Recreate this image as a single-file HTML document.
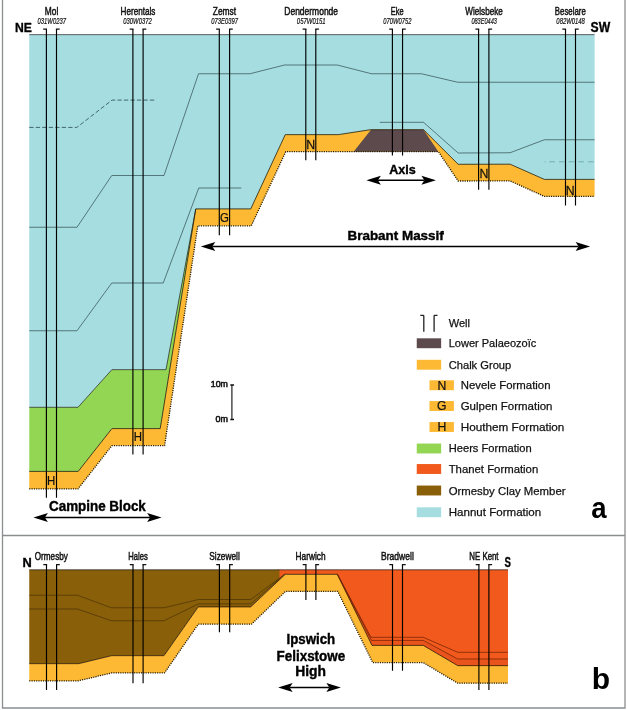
<!DOCTYPE html><html><head><meta charset="utf-8"><title>fig</title>
<style>html,body{margin:0;padding:0;background:#fff}svg{display:block;will-change:transform}text{font-family:"Liberation Sans",sans-serif}</style></head><body>
<svg width="627" height="710" viewBox="0 0 627 710">
<rect width="627" height="710" fill="#fff"/>
<path d="M2.5,0V708H625V0M2.5,535.5H625" fill="none" stroke="#8b8e91" stroke-width="1.3"/>
<g transform="translate(0,0.4)">
<polygon points="29.25,34.25 594.6,34.25 594.6,179 544.4,179 510.1,163.8 458.2,163.9 423.5,129.3 370.5,129.3 338.25,134.25 285.25,134.25 250.75,208.5 195.75,208.5 160.2,428.2 166,369.25 111.9,369.25 78,406.9 29.25,406.9" fill="#a6dde0" />
<polygon points="29.25,406.9 78,406.9 111.9,369.25 166,369.25 195.75,208.5 160.2,428.2 111.9,428.2 78.2,471 29.25,471" fill="#92d654" />
<polygon points="29.25,471 78.2,471 111.9,428.2 160.2,428.2 195.75,208.5 250.75,208.5 285.25,134.25 338.25,134.25 370.5,129.3 423.5,129.3 458.2,163.9 510.1,163.8 544.4,179 594.6,179 594.6,196 544.4,196 510.1,180.5 458.2,180.6 438.4,151.3 285.75,151.3 251.25,225.4 197.8,225.4 164.6,445.2 111.9,445.2 78,488.5 29.25,488.5" fill="#fdb933" />
<polygon points="371,129.3 423.5,129.3 438.4,151.3 353.6,151.3" fill="#5d4a4d" />
<polyline points="29.25,34.25 594.6,34.25" fill="none" stroke="#1c1c1c" stroke-width="0.7" />
<polyline points="29.25,406.9 78,406.9 111.9,369.25 166,369.25 195.75,208.5" fill="none" stroke="#1c1c1c" stroke-width="0.7" />
<polyline points="29.25,471 78.2,471 111.9,428.2 160.2,428.2 195.75,208.5 250.75,208.5 285.25,134.25 338.25,134.25 370.5,129.3 423.5,129.3 458.2,163.9 510.1,163.8 544.4,179 594.6,179" fill="none" stroke="#1c1c08" stroke-width="0.8" />
<polyline points="29.25,488.5 78,488.5 111.9,445.2 164.6,445.2 197.8,225.4 251.25,225.4 285.75,151.3 438.4,151.3 458.2,180.6 510.1,180.5 544.4,196 594.6,196" fill="none" stroke="#1a1400" stroke-width="1.3" stroke-dasharray="1.1 1.2"/>
</g>
<polyline points="29.25,227.25 77,227.25 111.75,175.5 164,175.5 198.5,73.75 250,73.75 284.5,65 337.25,65 371.5,73.75 421.5,73.75 457.75,82.25 594.6,82.25" fill="none" stroke="#1b3234" stroke-width="0.6" />
<polyline points="29.25,330.75 77,330.75 111.75,283 163.25,283 198.75,188 241.25,188" fill="none" stroke="#1b3234" stroke-width="0.6" />
<polyline points="29.25,127.4 76.8,127.4 112,100.1 155.8,100.1" fill="none" stroke="#2f5356" stroke-width="0.85" stroke-dasharray="4.3 2.2"/>
<polyline points="379.75,122.3 423.5,122.3 458.2,153 510,152.75 544.4,139.75 594.6,139.75" fill="none" stroke="#1b3234" stroke-width="0.6" />
<polyline points="544.6,161.8 594.6,161.8" fill="none" stroke="#5f9a9e" stroke-width="0.7" stroke-dasharray="1 3.7 5.5 4.2 5.5 4.2 5.5 4.2 5.5 4.2 5.5 4.2"/>
<path d="M46.4,28.9V497.65M56.5,28.9V497.65" fill="none" stroke="#000" stroke-width="1.15"/>
<path d="M43.199999999999996,29.099999999999998H47.0M59.7,29.099999999999998H55.9" fill="none" stroke="#111" stroke-width="1.4"/>
<path d="M132.9,28.9V454.4M143.1,28.9V454.4" fill="none" stroke="#000" stroke-width="1.15"/>
<path d="M129.70000000000002,29.099999999999998H133.5M146.29999999999998,29.099999999999998H142.5" fill="none" stroke="#111" stroke-width="1.4"/>
<path d="M219.3,28.9V235.15M229.6,28.9V235.15" fill="none" stroke="#000" stroke-width="1.15"/>
<path d="M216.10000000000002,29.099999999999998H219.9M232.79999999999998,29.099999999999998H229.0" fill="none" stroke="#111" stroke-width="1.4"/>
<path d="M305.8,28.9V160.15M315.8,28.9V160.15" fill="none" stroke="#000" stroke-width="1.15"/>
<path d="M302.6,29.099999999999998H306.40000000000003M319.0,29.099999999999998H315.2" fill="none" stroke="#111" stroke-width="1.4"/>
<path d="M392.4,28.9V155.4M402.55,28.9V155.4" fill="none" stroke="#000" stroke-width="1.15"/>
<path d="M389.2,29.099999999999998H393.0M405.75,29.099999999999998H401.95" fill="none" stroke="#111" stroke-width="1.4"/>
<path d="M478.6,28.9V189.70000000000002M488.9,28.9V189.70000000000002" fill="none" stroke="#000" stroke-width="1.15"/>
<path d="M475.40000000000003,29.099999999999998H479.20000000000005M492.09999999999997,29.099999999999998H488.29999999999995" fill="none" stroke="#111" stroke-width="1.4"/>
<path d="M565.5,28.9V205.6M575.5,28.9V205.6" fill="none" stroke="#000" stroke-width="1.15"/>
<path d="M562.3,29.099999999999998H566.1M578.7,29.099999999999998H574.9" fill="none" stroke="#111" stroke-width="1.4"/>
<text x="44.8" y="15" font-size="11.5" font-weight="normal" font-style="normal" fill="#111" stroke="#111" stroke-width="0.5" textLength="13.5" lengthAdjust="spacingAndGlyphs">Mol</text>
<text x="120.55" y="15" font-size="11.5" font-weight="normal" font-style="normal" fill="#111" stroke="#111" stroke-width="0.5" textLength="34.75" lengthAdjust="spacingAndGlyphs">Herentals</text>
<text x="212.8" y="15" font-size="11.5" font-weight="normal" font-style="normal" fill="#111" stroke="#111" stroke-width="0.5" textLength="23.25" lengthAdjust="spacingAndGlyphs">Zemst</text>
<text x="284.3" y="15" font-size="11.5" font-weight="normal" font-style="normal" fill="#111" stroke="#111" stroke-width="0.5" textLength="53.75" lengthAdjust="spacingAndGlyphs">Dendermonde</text>
<text x="390.8" y="15" font-size="11.5" font-weight="normal" font-style="normal" fill="#111" stroke="#111" stroke-width="0.5" textLength="12.75" lengthAdjust="spacingAndGlyphs">Eke</text>
<text x="465.3" y="15" font-size="11.5" font-weight="normal" font-style="normal" fill="#111" stroke="#111" stroke-width="0.5" textLength="37.5" lengthAdjust="spacingAndGlyphs">Wielsbeke</text>
<text x="554.8" y="15" font-size="11.5" font-weight="normal" font-style="normal" fill="#111" stroke="#111" stroke-width="0.5" textLength="31.0" lengthAdjust="spacingAndGlyphs">Beselare</text>
<text x="37.6" y="23.9" font-size="8.2" font-weight="normal" font-style="italic" fill="#111" stroke="#111" stroke-width="0.2" textLength="28.3" lengthAdjust="spacingAndGlyphs">031W0237</text>
<text x="123.35" y="23.9" font-size="8.2" font-weight="normal" font-style="italic" fill="#111" stroke="#111" stroke-width="0.2" textLength="28.3" lengthAdjust="spacingAndGlyphs">030W0372</text>
<text x="211.35" y="23.9" font-size="8.2" font-weight="normal" font-style="italic" fill="#111" stroke="#111" stroke-width="0.2" textLength="26.55" lengthAdjust="spacingAndGlyphs">073E0397</text>
<text x="296.85" y="23.9" font-size="8.2" font-weight="normal" font-style="italic" fill="#111" stroke="#111" stroke-width="0.2" textLength="28.8" lengthAdjust="spacingAndGlyphs">057W0151</text>
<text x="383.35" y="23.9" font-size="8.2" font-weight="normal" font-style="italic" fill="#111" stroke="#111" stroke-width="0.2" textLength="28.05" lengthAdjust="spacingAndGlyphs">070W0752</text>
<text x="471.40000000000003" y="23.9" font-size="8.2" font-weight="normal" font-style="italic" fill="#111" stroke="#111" stroke-width="0.2" textLength="25.5" lengthAdjust="spacingAndGlyphs">083E0443</text>
<text x="556.35" y="23.9" font-size="8.2" font-weight="normal" font-style="italic" fill="#111" stroke="#111" stroke-width="0.2" textLength="28.55" lengthAdjust="spacingAndGlyphs">082W0148</text>
<text x="14.9" y="32" font-size="13.2" font-weight="bold" font-style="normal" fill="#000" stroke="#000" stroke-width="0.35" textLength="16.9" lengthAdjust="spacingAndGlyphs">NE</text>
<text x="590.6" y="31.9" font-size="13.8" font-weight="bold" font-style="normal" fill="#000" stroke="#000" stroke-width="0.35" textLength="19.6" lengthAdjust="spacingAndGlyphs">SW</text>
<text transform="translate(310.6,148.7) scale(0.95,1)" text-anchor="middle" font-size="13" font-weight="normal" fill="#111" stroke="#111" stroke-width="0.25">N</text>
<text transform="translate(484,178.2) scale(0.95,1)" text-anchor="middle" font-size="13" font-weight="normal" fill="#111" stroke="#111" stroke-width="0.25">N</text>
<text transform="translate(570.3,194.7) scale(0.95,1)" text-anchor="middle" font-size="13" font-weight="normal" fill="#111" stroke="#111" stroke-width="0.25">N</text>
<text transform="translate(224.5,222.2) scale(0.88,1)" text-anchor="middle" font-size="13" font-weight="normal" fill="#111" stroke="#111" stroke-width="0.25">G</text>
<text transform="translate(51.25,485.2) scale(0.88,1)" text-anchor="middle" font-size="13" font-weight="normal" fill="#111" stroke="#111" stroke-width="0.25">H</text>
<text transform="translate(138,440.95) scale(0.88,1)" text-anchor="middle" font-size="13" font-weight="normal" fill="#111" stroke="#111" stroke-width="0.25">H</text>
<text x="389.25" y="173.5" font-size="13.7" font-weight="bold" font-style="normal" fill="#000" stroke="#000" stroke-width="0.4" textLength="26.5" lengthAdjust="spacingAndGlyphs">Axis</text>
<path d="M377.9,180.2H424.40000000000003" stroke="#000" stroke-width="1.5" fill="none"/>
<path d="M366.4,180.2L380.9,175.7L377.9,180.2L380.9,184.7Z" fill="#000"/>
<path d="M435.90000000000003,180.2L421.40000000000003,175.7L424.40000000000003,180.2L421.40000000000003,184.7Z" fill="#000"/>
<text x="347.5" y="239.5" font-size="13" font-weight="bold" font-style="normal" fill="#000" stroke="#000" stroke-width="0.4" textLength="96.25" lengthAdjust="spacingAndGlyphs">Brabant Massif</text>
<path d="M212.3,246.4H578.6" stroke="#000" stroke-width="1.5" fill="none"/>
<path d="M200.8,246.4L215.3,241.9L212.3,246.4L215.3,250.9Z" fill="#000"/>
<path d="M590.1,246.4L575.6,241.9L578.6,246.4L575.6,250.9Z" fill="#000"/>
<text x="49" y="510.7" font-size="14.2" font-weight="bold" font-style="normal" fill="#000" stroke="#000" stroke-width="0.4" textLength="96.8" lengthAdjust="spacingAndGlyphs">Campine Block</text>
<path d="M44.9,517.4H150.1" stroke="#000" stroke-width="1.5" fill="none"/>
<path d="M33.4,517.4L47.9,512.9L44.9,517.4L47.9,521.9Z" fill="#000"/>
<path d="M161.6,517.4L147.1,512.9L150.1,517.4L147.1,521.9Z" fill="#000"/>
<path d="M231.9,385V419.5" stroke="#222" stroke-width="1.2" fill="none"/><path d="M230.3,385H234M230.3,419.5H234" stroke="#111" stroke-width="1.5" fill="none"/>
<text x="210.8" y="387.3" font-size="8.9" font-weight="normal" font-style="normal" fill="#111" stroke="#111" stroke-width="0.55" textLength="17.1" lengthAdjust="spacingAndGlyphs">10m</text>
<text x="215.5" y="421.7" font-size="8.9" font-weight="normal" font-style="normal" fill="#111" stroke="#111" stroke-width="0.55" textLength="12.4" lengthAdjust="spacingAndGlyphs">0m</text>
<path d="M420.3,315.3H423.1Q423.8,315.3 423.8,316V331.8M437.5,315.3H434.8Q434.1,315.3 434.1,316V331.8" fill="none" stroke="#222" stroke-width="1.3"/>
<text x="448.7" y="326.5" font-size="11.6" font-weight="normal" font-style="normal" fill="#111" stroke="#111" stroke-width="0.25" textLength="21.3" lengthAdjust="spacingAndGlyphs">Well</text>
<rect x="416.75" y="338.3" width="24.4" height="9.9" fill="#5d4a4d"/>
<text x="448.7" y="347.4" font-size="11.6" font-weight="normal" font-style="normal" fill="#111" stroke="#111" stroke-width="0.25" textLength="87.55" lengthAdjust="spacingAndGlyphs">Lower Palaeozoïc</text>
<rect x="416.75" y="359.8" width="24.4" height="9.9" fill="#fdb933"/>
<text x="448.7" y="368.6" font-size="11.6" font-weight="normal" font-style="normal" fill="#111" stroke="#111" stroke-width="0.25" textLength="62.55" lengthAdjust="spacingAndGlyphs">Chalk Group</text>
<rect x="429.5" y="380.3" width="24.4" height="9.9" fill="#fdb933"/>
<text x="460.7" y="389.4" font-size="11.6" font-weight="normal" font-style="normal" fill="#111" stroke="#111" stroke-width="0.25" textLength="89.8" lengthAdjust="spacingAndGlyphs">Nevele Formation</text>
<text transform="translate(441.8,389.6) scale(0.97,1)" text-anchor="middle" font-size="12.6" font-weight="normal" fill="#111" stroke="#111" stroke-width="0.25">N</text>
<rect x="429.5" y="401.05" width="24.4" height="9.9" fill="#fdb933"/>
<text x="460.7" y="410.4" font-size="11.6" font-weight="normal" font-style="normal" fill="#111" stroke="#111" stroke-width="0.25" textLength="91.8" lengthAdjust="spacingAndGlyphs">Gulpen Formation</text>
<text transform="translate(441.8,410.35) scale(0.97,1)" text-anchor="middle" font-size="12.6" font-weight="normal" fill="#111" stroke="#111" stroke-width="0.25">G</text>
<rect x="429.5" y="422.05" width="24.4" height="9.9" fill="#fdb933"/>
<text x="460.7" y="431.2" font-size="11.6" font-weight="normal" font-style="normal" fill="#111" stroke="#111" stroke-width="0.25" textLength="103.7" lengthAdjust="spacingAndGlyphs">Houthem Formation</text>
<text transform="translate(441.8,431.35) scale(0.97,1)" text-anchor="middle" font-size="12.6" font-weight="normal" fill="#111" stroke="#111" stroke-width="0.25">H</text>
<rect x="416.75" y="443.55" width="24.4" height="9.9" fill="#92d654"/>
<text x="448.7" y="452.2" font-size="11.6" font-weight="normal" font-style="normal" fill="#111" stroke="#111" stroke-width="0.25" textLength="83.05" lengthAdjust="spacingAndGlyphs">Heers Formation</text>
<rect x="416.75" y="464.05" width="24.4" height="9.9" fill="#f15a1c"/>
<text x="448.7" y="473" font-size="11.6" font-weight="normal" font-style="normal" fill="#111" stroke="#111" stroke-width="0.25" textLength="89.55" lengthAdjust="spacingAndGlyphs">Thanet Formation</text>
<rect x="416.75" y="485.55" width="24.4" height="9.9" fill="#8a5f0a"/>
<text x="448.7" y="494.6" font-size="11.6" font-weight="normal" font-style="normal" fill="#111" stroke="#111" stroke-width="0.25" textLength="116.8" lengthAdjust="spacingAndGlyphs">Ormesby Clay Member</text>
<rect x="416.75" y="507.3" width="24.4" height="9.9" fill="#a6dde0"/>
<text x="448.7" y="515.5" font-size="11.6" font-weight="normal" font-style="normal" fill="#111" stroke="#111" stroke-width="0.25" textLength="92.5" lengthAdjust="spacingAndGlyphs">Hannut Formation</text>
<text transform="translate(598.9,518) scale(0.92,1)" text-anchor="middle" font-size="30" font-weight="bold" fill="#000" stroke="#000" stroke-width="0">a</text>
<g transform="translate(0,0.4)">
<polygon points="277,569.4 508,569.4 508,665.25 457.75,665.25 423.25,645 372,645 337.25,573.9 285.25,573.9 277,582" fill="#f15a1c" />
<polygon points="29.25,569.4 279.5,569.4 279.5,579.3 250.75,606.5 198.25,606.5 164,655.25 111.75,655.25 78.75,663.25 29.25,663.25" fill="#8a5f0a" />
<polygon points="337.25,573.9 371.5,640.4 423.25,640.4 457.75,659 508,659 508,665.25 457.75,665.25 423.25,645 372,645" fill="#e8541b" />
<polygon points="29.25,663.25 78.75,663.25 111.75,655.25 164,655.25 198.25,606.5 250.75,606.5 285.25,573.9 337.25,573.9 372,645 423.25,645 457.75,665.25 508,665.25 508,682.75 457.75,682.75 423.25,662.2 372.75,662.2 337.75,591 285.4,591 251.5,623.75 198.25,623.75 164.5,672.5 111.75,672.5 78,680.5 29.25,680.5" fill="#fdb933" />
<polyline points="29.25,569.4 508,569.4" fill="none" stroke="#1c1c1c" stroke-width="0.7" />
<polyline points="29.25,663.25 78.75,663.25 111.75,655.25 164,655.25 198.25,606.5 250.75,606.5 285.25,573.9 337.25,573.9 372,645 423.25,645 457.75,665.25 508,665.25" fill="none" stroke="#2a1600" stroke-width="0.8" />
<polyline points="29.25,680.5 78,680.5 111.75,672.5 164.5,672.5 198.25,623.75 251.5,623.75 285.4,591 337.75,591 372.75,662.2 423.25,662.2 457.75,682.75 508,682.75" fill="none" stroke="#1a1400" stroke-width="1.3" stroke-dasharray="1.1 1.2"/>
</g>
<polyline points="29.25,595.25 77.5,595.25 111.25,607.75 164,607.75 198.5,599.5 250.8,599.5 285.2,573.9" fill="none" stroke="#3d2a05" stroke-width="0.6" />
<polyline points="29.25,609 77.5,609 111.25,620.75 164,620.75 198.5,603.9 250.8,603.9 285.2,573.9" fill="none" stroke="#3d2a05" stroke-width="0.6" />
<polyline points="337.25,573.9 371,637.3 423.25,637.3 457.75,652.3 508,652.3" fill="none" stroke="#6a1c04" stroke-width="0.7" />
<polyline points="337.25,573.9 371.5,640.4 423.25,640.4 457.75,659 508,659" fill="none" stroke="#6a1c04" stroke-width="0.7" />
<path d="M46.5,564.4V689.9M56.6,564.4V689.9" fill="none" stroke="#000" stroke-width="1.15"/>
<path d="M43.3,564.6H47.1M59.800000000000004,564.6H56.0" fill="none" stroke="#111" stroke-width="1.4"/>
<path d="M133.0,564.4V683.15M143.1,564.4V683.15" fill="none" stroke="#000" stroke-width="1.15"/>
<path d="M129.8,564.6H133.6M146.29999999999998,564.6H142.5" fill="none" stroke="#111" stroke-width="1.4"/>
<path d="M219.39999999999998,564.4V632.15M229.7,564.4V632.15" fill="none" stroke="#000" stroke-width="1.15"/>
<path d="M216.2,564.6H219.99999999999997M232.89999999999998,564.6H229.1" fill="none" stroke="#111" stroke-width="1.4"/>
<path d="M305.9,564.4V600.1M315.9,564.4V600.1" fill="none" stroke="#000" stroke-width="1.15"/>
<path d="M302.7,564.6H306.5M319.09999999999997,564.6H315.29999999999995" fill="none" stroke="#111" stroke-width="1.4"/>
<path d="M392.5,564.4V670.65M402.5,564.4V670.65" fill="none" stroke="#000" stroke-width="1.15"/>
<path d="M389.3,564.6H393.1M405.7,564.6H401.9" fill="none" stroke="#111" stroke-width="1.4"/>
<path d="M478.9,564.4V689.9M488.9,564.4V689.9" fill="none" stroke="#000" stroke-width="1.15"/>
<path d="M475.7,564.6H479.5M492.09999999999997,564.6H488.29999999999995" fill="none" stroke="#111" stroke-width="1.4"/>
<text x="34.8" y="559.5" font-size="11.5" font-weight="normal" font-style="normal" fill="#111" stroke="#111" stroke-width="0.5" textLength="33.0" lengthAdjust="spacingAndGlyphs">Ormesby</text>
<text x="128.3" y="559.5" font-size="11.5" font-weight="normal" font-style="normal" fill="#111" stroke="#111" stroke-width="0.5" textLength="19.5" lengthAdjust="spacingAndGlyphs">Hales</text>
<text x="209.3" y="559.5" font-size="11.5" font-weight="normal" font-style="normal" fill="#111" stroke="#111" stroke-width="0.5" textLength="30.5" lengthAdjust="spacingAndGlyphs">Sizewell</text>
<text x="295.55" y="559.5" font-size="11.5" font-weight="normal" font-style="normal" fill="#111" stroke="#111" stroke-width="0.5" textLength="30.0" lengthAdjust="spacingAndGlyphs">Harwich</text>
<text x="381.05" y="559.5" font-size="11.5" font-weight="normal" font-style="normal" fill="#111" stroke="#111" stroke-width="0.5" textLength="32.75" lengthAdjust="spacingAndGlyphs">Bradwell</text>
<text x="469.3" y="559.5" font-size="11.5" font-weight="normal" font-style="normal" fill="#111" stroke="#111" stroke-width="0.5" textLength="29.25" lengthAdjust="spacingAndGlyphs">NE Kent</text>
<text x="22.5" y="566.6" font-size="13" font-weight="bold" font-style="normal" fill="#000" stroke="#000" stroke-width="0.35" textLength="9.25" lengthAdjust="spacingAndGlyphs">N</text>
<text x="504.6" y="567" font-size="13.8" font-weight="bold" font-style="normal" fill="#000" stroke="#000" stroke-width="0.35" textLength="6.4" lengthAdjust="spacingAndGlyphs">S</text>
<text x="286.5" y="644.4" font-size="14.2" font-weight="bold" font-style="normal" fill="#000" stroke="#000" stroke-width="0.4" textLength="48.75" lengthAdjust="spacingAndGlyphs">Ipswich</text>
<text x="276.5" y="660.5" font-size="14.2" font-weight="bold" font-style="normal" fill="#000" stroke="#000" stroke-width="0.4" textLength="68.75" lengthAdjust="spacingAndGlyphs">Felixstowe</text>
<text x="295.25" y="676.2" font-size="14.2" font-weight="bold" font-style="normal" fill="#000" stroke="#000" stroke-width="0.4" textLength="30.75" lengthAdjust="spacingAndGlyphs">High</text>
<path d="M289.65,687.6H329.35" stroke="#000" stroke-width="1.5" fill="none"/>
<path d="M278.15,687.6L292.65,683.1L289.65,687.6L292.65,692.1Z" fill="#000"/>
<path d="M340.85,687.6L326.35,683.1L329.35,687.6L326.35,692.1Z" fill="#000"/>
<text transform="translate(600.8,688.7) scale(1.0,1)" text-anchor="middle" font-size="30" font-weight="bold" fill="#000" stroke="#000" stroke-width="0">b</text>
</svg></body></html>
